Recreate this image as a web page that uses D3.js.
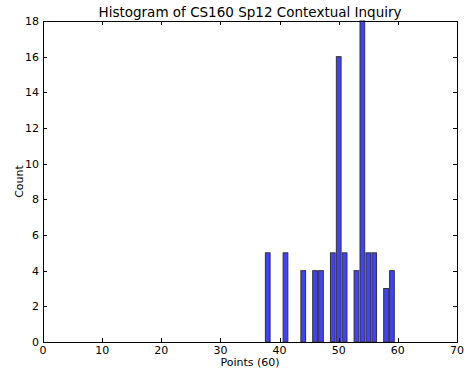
<!DOCTYPE html>
<html><head><meta charset="utf-8">
<script src="https://cdn.jsdelivr.net/npm/d3@7"></script>
<style>body{margin:0;background:#fff}text{font-family:"DejaVu Sans",sans-serif;fill:#000}</style>
</head><body>
<svg id="c" width="464" height="372"></svg>
<script>
const points = [38,41,44,46,47,49,50,51,53,54,55,56,58,59];
const counts = [5,5,4,4,4,5,16,5,4,18,5,5,3,4];
const xTicks = [0,10,20,30,40,50,60,70];
const yTicks = [0,2,4,6,8,10,12,14,16,18];
const title = "Histogram of CS160 Sp12 Contextual Inquiry";
const xLabel = "Points (60)";
const yLabel = "Count";

const m = {l:43, r:7, t:21, b:30};
const W = 464, H = 372;
const svg = d3.select("#c");
const x = d3.scaleLinear().domain([0,70]).range([m.l, W-m.r]);
const y = d3.scaleLinear().domain([0,18]).range([H-m.b, m.t]);
const bw = 0.8;

svg.append("g").selectAll("rect").data(points).join("rect")
  .attr("x", (d)=>x(d-bw/2)).attr("width", (d)=>x(d+bw/2)-x(d-bw/2))
  .attr("y", (d,i)=>y(counts[i])).attr("height", (d,i)=>y(0)-y(counts[i]))
  .attr("fill","#4040ff").attr("stroke","#333").attr("stroke-width",1);

const tl = 4;
const g = svg.append("g").attr("stroke","#000").attr("stroke-width",1);
xTicks.forEach(t=>{
  const px = Math.round(x(t))+0.5;
  g.append("line").attr("x1",px).attr("x2",px).attr("y1",y(0)).attr("y2",y(0)-tl);
  g.append("line").attr("x1",px).attr("x2",px).attr("y1",y(18)).attr("y2",y(18)+tl);
});
yTicks.forEach(t=>{
  const py = Math.round(y(t))+0.5;
  g.append("line").attr("x1",x(0)).attr("x2",x(0)+tl).attr("y1",py).attr("y2",py);
  g.append("line").attr("x1",x(70)).attr("x2",x(70)-tl).attr("y1",py).attr("y2",py);
});
svg.append("rect").attr("x",Math.round(x(0))+0.5).attr("y",Math.round(y(18))+0.5)
  .attr("width",Math.round(x(70))-Math.round(x(0))).attr("height",Math.round(y(0))-Math.round(y(18)))
  .attr("fill","none").attr("stroke","#000").attr("stroke-width",1);

svg.append("g").selectAll("text").data(xTicks).join("text")
  .attr("x",d=>x(d)).attr("y",y(0)+12).attr("text-anchor","middle")
  .style("font-size","11px").text(d=>d);
svg.append("g").selectAll("text").data(yTicks).join("text")
  .attr("x",x(0)-4).attr("y",d=>y(d)+4).attr("text-anchor","end")
  .style("font-size","11px").text(d=>d);

svg.append("text").attr("x",(x(0)+x(70))/2).attr("y",17).attr("text-anchor","middle")
  .style("font-size","13.5px").text(title);
svg.append("text").attr("x",(x(0)+x(70))/2).attr("y",366).attr("text-anchor","middle")
  .style("font-size","11px").text(xLabel);
svg.append("text").attr("transform",`translate(23,${(y(0)+y(18))/2}) rotate(-90)`)
  .attr("text-anchor","middle").style("font-size","11px").text(yLabel);
</script>
</body></html>
